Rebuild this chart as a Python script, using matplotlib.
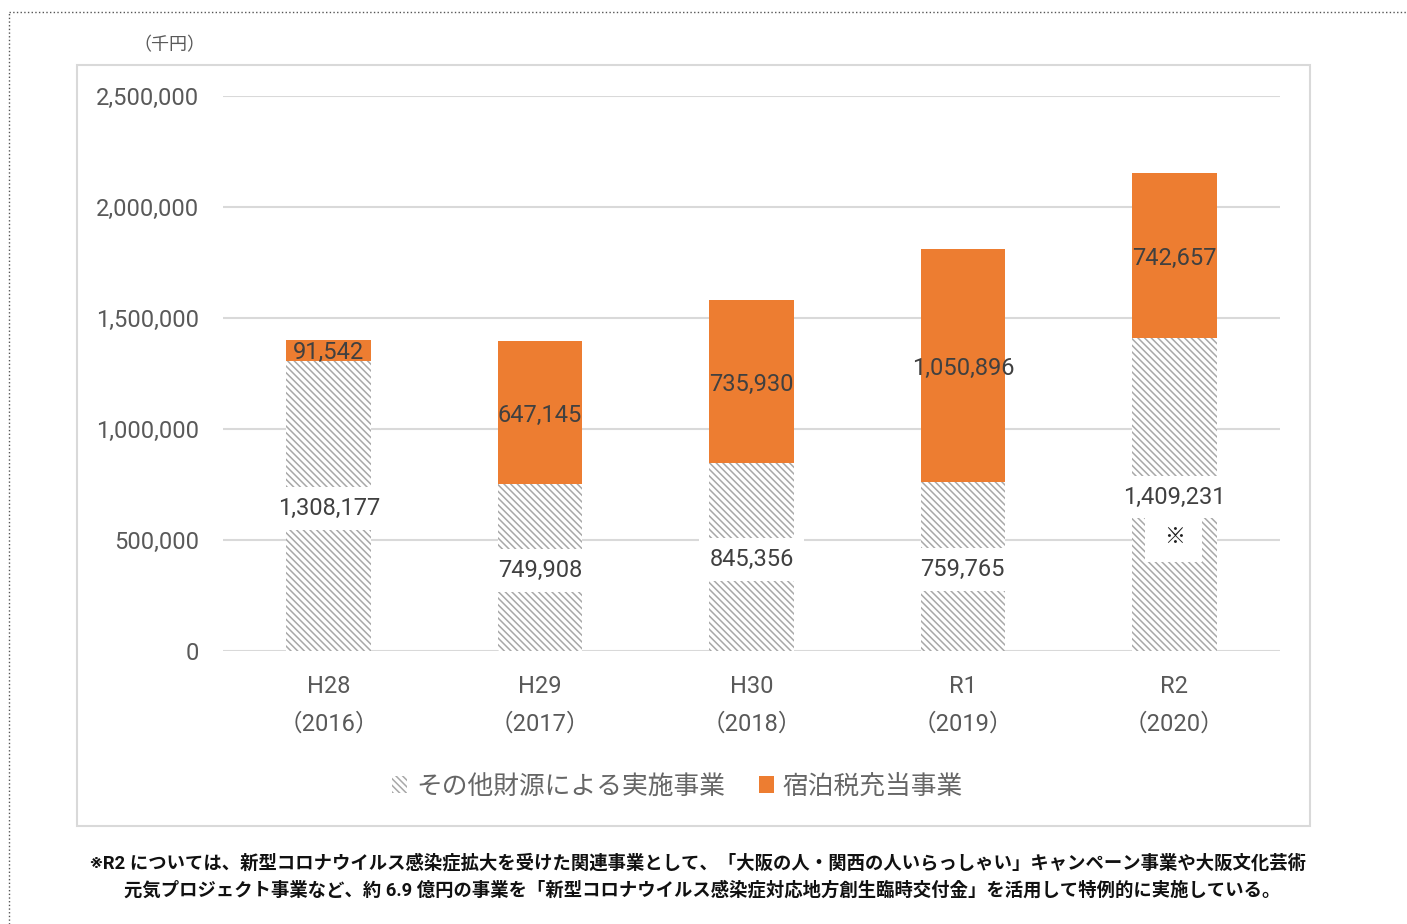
import matplotlib
matplotlib.use('Agg')
import matplotlib.pyplot as plt
import matplotlib.patches as mpatches
from matplotlib.ticker import FuncFormatter
import numpy as np

plt.rcParams['font.family'] = ['Roboto', 'Noto Sans CJK JP', 'DejaVu Sans']
plt.rcParams['hatch.linewidth'] = 1.1

# データ（千円）
years = ['H28\n（2016）', 'H29\n（2017）', 'H30\n（2018）', 'R1\n（2019）', 'R2\n（2020）']
other_funds = [1308177, 749908, 845356, 759765, 1409231]
lodging_tax = [91542, 647145, 735930, 1050896, 742657]
yticks = [0, 500000, 1000000, 1500000, 2000000, 2500000]

label_other = 'その他財源による実施事業'
label_tax = '宿泊税充当事業'
note1 = '※R2 については、新型コロナウイルス感染症拡大を受けた関連事業として、「大阪の人・関西の人いらっしゃい」キャンペーン事業や大阪文化芸術'
note2 = '元気プロジェクト事業など、約 6.9 億円の事業を「新型コロナウイルス感染症対応地方創生臨時交付金」を活用して特例的に実施している。'

orange = '#ED7D31'
hatch_gray = '#a8a8a8'
grid_gray = '#d9d9d9'
tick_col = '#595959'
lab_col = '#404040'

fig = plt.figure(figsize=(14.07, 9.24), dpi=100)
ax = fig.add_axes([0.1585, 0.2955, 0.7512, 0.6006])

x = np.arange(len(years))
w = 0.4
b1 = ax.bar(x, other_funds, w, color='white', edgecolor=hatch_gray, linewidth=0,
            hatch='\\\\\\\\\\', label=label_other, zorder=2)
b2 = ax.bar(x, lodging_tax, w, bottom=other_funds, color=orange, linewidth=0,
            label=label_tax, zorder=2)

for xi, v in zip(x, other_funds):
    ax.text(xi, v / 2, f'{v:,}', ha='center', va='center_baseline', fontsize=17, color=lab_col,
            zorder=4, bbox=dict(boxstyle='square,pad=0.42', facecolor='white', edgecolor='none'))
for xi, b, v in zip(x, other_funds, lodging_tax):
    ax.text(xi, b + v / 2, f'{v:,}', ha='center', va='center_baseline', fontsize=17,
            color=lab_col, zorder=4)

# R2 の ※ 注記ボックス
ax.add_patch(mpatches.Rectangle((x[4] - 0.137, 401000), 0.27, 212000, facecolor='white',
                                edgecolor='none', zorder=3))
ax.text(x[4], 512000, '※', ha='center', va='center', fontsize=15, color='#202020', zorder=4)

ax.set_xlim(-0.5, 4.5)
ax.set_ylim(0, 2500000)
ax.set_yticks(yticks)
ax.yaxis.set_major_formatter(FuncFormatter(lambda v, p: f'{int(v):,}'))
ax.set_xticks(x)
ax.set_xticklabels(years, linespacing=1.85)
ax.tick_params(axis='y', length=0, pad=17, labelsize=17, labelcolor=tick_col)
ax.tick_params(axis='x', length=0, pad=17, labelsize=17, labelcolor=tick_col)
ax.grid(axis='y', color=grid_gray, linewidth=1.5, zorder=0)
ax.set_axisbelow(True)
for s in ax.spines.values():
    s.set_visible(False)

fig.text(0.1202, 0.951, '（千円）', ha='center', va='center', fontsize=13, color=tick_col)

leg = fig.legend(handles=[b1, b2], loc='center', bbox_to_anchor=(0.4815, 0.149), ncol=2,
                 frameon=False, fontsize=18.5, handlelength=0.6, handleheight=0.6,
                 handletextpad=0.35, columnspacing=1.3)
for t in leg.get_texts():
    t.set_color('#666666')

# グラフ枠と外枠
fig.patches.append(mpatches.Rectangle((0.0547, 0.106), 0.8763, 0.8237, transform=fig.transFigure,
                                      fill=False, edgecolor=grid_gray, linewidth=1.5))
fig.lines.append(plt.Line2D([0.0064, 1.0], [0.987, 0.987], transform=fig.transFigure,
                            color='#555555', linestyle=':', linewidth=1))
fig.lines.append(plt.Line2D([0.0064, 0.0064], [0.0, 0.987], transform=fig.transFigure,
                            color='#555555', linestyle=':', linewidth=1))

fig.text(0.496, 0.066, note1, ha='center', va='center', fontsize=13.2, fontweight='bold',
         color='#111111')
fig.text(0.499, 0.037, note2, ha='center', va='center', fontsize=13.2, fontweight='bold',
         color='#111111')

fig.savefig('out.png', dpi=100)
